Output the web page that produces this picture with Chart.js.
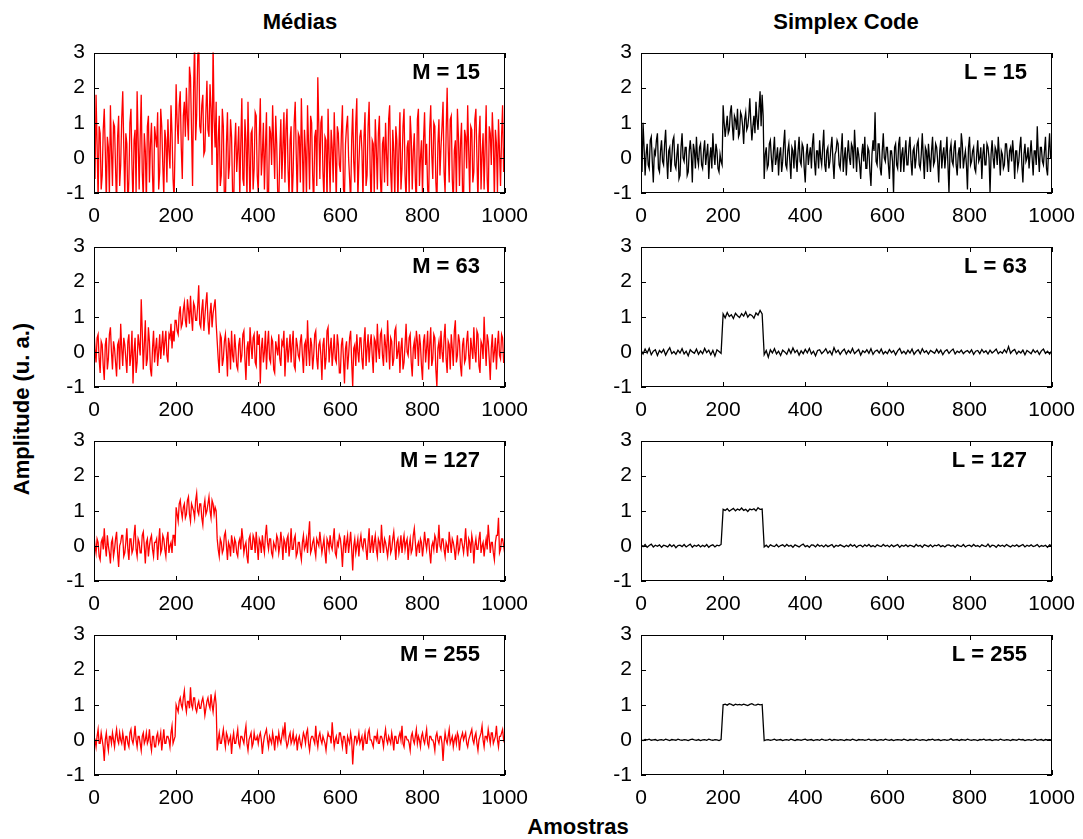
<!DOCTYPE html>
<html>
<head>
<meta charset="utf-8">
<script src="https://cdn.jsdelivr.net/npm/chart.js@4.4.1/dist/chart.umd.min.js"></script>
<style>
  body { margin: 0; background: #fff; }
  #fig { position: relative; width: 1083px; height: 839px; overflow: hidden; font-family: "Liberation Sans", Arial, sans-serif; color: #000; }
  #fig canvas { position: absolute; }
  .lbl { position: absolute; font-weight: bold; font-size: 22px; white-space: nowrap; transform: translate(-50%, -50%); }
</style>
</head>
<body>
<div id="fig">
  <div class="lbl" style="left:300px; top:22px;">Médias</div>
  <div class="lbl" style="left:846px; top:22px;">Simplex Code</div>
  <div class="lbl" style="left:22px; top:409px; transform: translate(-50%, -50%) rotate(-90deg);">Amplitude (u. a.)</div>
  <div class="lbl" style="left:578px; top:827px;">Amostras</div>
</div>
<script>
// sample positions (x axis): fine grid for the noisy traces, coarse grid for the clean ones
var samplesFine = [0,2.5,5,7.5,10,12.5,15,17.5,20,22.5,25,27.5,30,32.5,35,37.5,40,42.5,45,47.5,
  50,52.5,55,57.5,60,62.5,65,67.5,70,72.5,75,77.5,80,82.5,85,87.5,90,92.5,95,97.5,
  100,102.5,105,107.5,110,112.5,115,117.5,120,122.5,125,127.5,130,132.5,135,137.5,140,142.5,145,147.5,
  150,152.5,155,157.5,160,162.5,165,167.5,170,172.5,175,177.5,180,182.5,185,187.5,190,192.5,195,197.5,
  200,202.5,205,207.5,210,212.5,215,217.5,220,222.5,225,227.5,230,232.5,235,237.5,240,242.5,245,247.5,
  250,252.5,255,257.5,260,262.5,265,267.5,270,272.5,275,277.5,280,282.5,285,287.5,290,292.5,295,297.5,
  300,302.5,305,307.5,310,312.5,315,317.5,320,322.5,325,327.5,330,332.5,335,337.5,340,342.5,345,347.5,
  350,352.5,355,357.5,360,362.5,365,367.5,370,372.5,375,377.5,380,382.5,385,387.5,390,392.5,395,397.5,
  400,402.5,405,407.5,410,412.5,415,417.5,420,422.5,425,427.5,430,432.5,435,437.5,440,442.5,445,447.5,
  450,452.5,455,457.5,460,462.5,465,467.5,470,472.5,475,477.5,480,482.5,485,487.5,490,492.5,495,497.5,
  500,502.5,505,507.5,510,512.5,515,517.5,520,522.5,525,527.5,530,532.5,535,537.5,540,542.5,545,547.5,
  550,552.5,555,557.5,560,562.5,565,567.5,570,572.5,575,577.5,580,582.5,585,587.5,590,592.5,595,597.5,
  600,602.5,605,607.5,610,612.5,615,617.5,620,622.5,625,627.5,630,632.5,635,637.5,640,642.5,645,647.5,
  650,652.5,655,657.5,660,662.5,665,667.5,670,672.5,675,677.5,680,682.5,685,687.5,690,692.5,695,697.5,
  700,702.5,705,707.5,710,712.5,715,717.5,720,722.5,725,727.5,730,732.5,735,737.5,740,742.5,745,747.5,
  750,752.5,755,757.5,760,762.5,765,767.5,770,772.5,775,777.5,780,782.5,785,787.5,790,792.5,795,797.5,
  800,802.5,805,807.5,810,812.5,815,817.5,820,822.5,825,827.5,830,832.5,835,837.5,840,842.5,845,847.5,
  850,852.5,855,857.5,860,862.5,865,867.5,870,872.5,875,877.5,880,882.5,885,887.5,890,892.5,895,897.5,
  900,902.5,905,907.5,910,912.5,915,917.5,920,922.5,925,927.5,930,932.5,935,937.5,940,942.5,945,947.5,
  950,952.5,955,957.5,960,962.5,965,967.5,970,972.5,975,977.5,980,982.5,985,987.5,990,992.5,995,997.5,1000];

var samples = [0,5,10,15,20,25,30,35,40,45,50,55,60,65,70,75,80,85,90,95,
  100,105,110,115,120,125,130,135,140,145,150,155,160,165,170,175,180,185,190,195,
  200,205,210,215,220,225,230,235,240,245,250,255,260,265,270,275,280,285,290,295,
  300,305,310,315,320,325,330,335,340,345,350,355,360,365,370,375,380,385,390,395,
  400,405,410,415,420,425,430,435,440,445,450,455,460,465,470,475,480,485,490,495,
  500,505,510,515,520,525,530,535,540,545,550,555,560,565,570,575,580,585,590,595,
  600,605,610,615,620,625,630,635,640,645,650,655,660,665,670,675,680,685,690,695,
  700,705,710,715,720,725,730,735,740,745,750,755,760,765,770,775,780,785,790,795,
  800,805,810,815,820,825,830,835,840,845,850,855,860,865,870,875,880,885,890,895,
  900,905,910,915,920,925,930,935,940,945,950,955,960,965,970,975,980,985,990,995,1000];

var xTicks = [0, 200, 400, 600, 800, 1000];
var yTicks = [-1, 0, 1, 2, 3];

var mediasLabels = ['M = 15', 'M = 63', 'M = 127', 'M = 255'];
var simplexLabels = ['L = 15', 'L = 63', 'L = 127', 'L = 255'];

// Médias (red)
var mediasM15 = [0.1,-0.6,1.8,0.4,-1.2,0.9,0.7,-0.9,-0.5,0.8,1.4,0.2,-1.3,0.6,0.3,-1.1,1.5,0.2,-0.8,1.0,
  0.9,-0.3,-1.4,0.6,1.2,-0.8,-0.2,1.1,1.9,0.3,-1.1,0.7,0.4,-1.5,-0.6,1.0,1.4,-0.2,-1.3,0.5,
  0.8,-1.0,1.9,0.5,-0.9,0.6,1.8,-0.4,-1.2,0.7,0.2,-1.3,0.9,1.2,-0.7,0.4,1.0,-0.5,-1.5,0.9,
  0.6,0.3,1.3,-0.9,-0.4,1.4,0.9,-0.2,-1.1,0.8,0.5,-0.7,1.1,0.2,-0.3,1.5,0.7,-0.6,-1.2,0.4,
  2.1,1.0,0.4,1.5,1.9,0.3,-0.6,1.2,1.6,0.6,2.0,1.1,0.5,2.6,2.3,0.8,-0.8,1.9,3.4,0.5,
  1.2,2.8,3.5,0.9,0.7,1.5,1.8,0.1,0.2,1.3,2.2,0.8,0.6,2.1,1.4,-0.2,3.3,1.1,0.3,1.6,
  -1.4,0.5,1.2,-0.8,-0.5,1.4,0.9,-1.2,-1.3,0.4,1.3,-0.6,-0.2,1.1,0.6,-1.0,-1.5,0.3,1.0,-0.4,
  0.2,0.9,-1.1,0.4,1.7,-0.6,-0.8,1.1,0.5,-1.2,1.6,0.1,-1.4,0.7,0.8,-0.9,-0.3,1.3,1.2,-0.5,
  -1.0,0.6,1.7,-0.5,0.1,1.0,-0.9,0.3,1.3,-1.4,-1.2,0.9,0.7,-0.2,1.5,0.4,-0.6,1.2,0.4,-1.1,
  -1.3,0.2,1.1,-0.6,0.3,1.3,-0.7,0.8,1.4,-0.3,-1.1,0.5,0.9,-1.3,-0.4,1.0,1.6,0.1,-1.2,0.7,
  0.6,-0.7,1.7,0.3,-1.3,0.8,0.2,-1.1,1.5,0.4,-0.9,1.2,1.0,-0.5,-1.4,0.6,0.8,-0.8,2.3,0.9,
  -0.6,1.0,1.2,-0.4,-1.2,0.6,0.5,-1.3,1.4,0.1,-1.0,0.8,0.3,-0.7,1.3,0.2,-1.3,0.9,0.7,-0.2,
  -0.4,0.7,1.5,-0.9,-1.1,0.4,0.9,1.2,0.0,-0.6,-1.3,0.5,1.4,-0.1,-0.7,1.0,1.7,-1.2,-0.2,0.6,
  0.8,0.2,-1.2,0.6,1.3,-0.8,-0.5,0.9,1.6,-0.3,-1.4,0.5,0.4,-1.0,1.1,0.3,-0.9,0.7,1.2,-0.6,
  -1.3,0.4,0.6,-0.7,1.0,0.1,-0.8,1.1,1.5,-0.4,-1.1,0.8,0.2,-1.2,0.9,0.5,-1.3,0.2,1.3,-0.9,
  -0.3,0.9,1.4,-0.5,-1.2,0.3,0.5,-1.0,1.2,0.6,-0.9,0.2,0.7,-0.6,-1.4,1.1,1.4,-0.8,0.0,0.5,
  -1.1,0.5,1.3,-0.2,0.4,-0.9,-1.2,0.8,1.5,0.1,-0.6,1.0,0.9,-0.7,-1.3,0.4,1.1,-0.5,0.3,0.9,
  1.6,-0.4,-1.0,0.7,2.0,0.3,-0.7,1.1,1.2,-0.6,-1.3,0.2,0.5,-1.1,1.4,0.6,-0.8,0.4,1.0,-1.0,
  -1.2,0.8,0.6,-0.3,1.5,0.2,-1.1,0.9,0.8,-0.7,-0.4,1.1,1.4,0.0,-1.3,0.6,1.2,-0.9,0.1,0.7,
  -0.9,0.3,1.5,-0.6,-1.3,0.9,0.7,-0.2,1.3,0.5,-1.2,0.8,0.4,-1.0,1.1,0.2,-0.8,0.6,1.5,-0.4,0.3];

var mediasM63 = [0.6,0.1,-0.3,0.4,0.5,-0.2,-0.6,0.3,0.2,-0.4,-0.8,0.2,0.4,-0.5,-0.2,0.5,0.7,0.0,-0.5,0.3,
  0.1,-0.3,-0.7,0.2,0.3,-0.5,0.8,0.1,-0.4,0.4,0.2,-0.2,-0.6,0.3,0.5,-0.4,-0.1,0.6,-0.9,0.0,
  0.4,-0.6,-0.3,0.5,0.2,-0.1,1.5,0.6,-0.5,0.2,0.9,-0.4,-0.2,0.7,0.3,-0.5,-0.7,0.1,0.6,-0.3,
  0.1,0.4,-0.4,0.0,0.5,-0.2,0.2,0.6,-0.1,0.3,0.6,-0.1,-0.3,0.5,0.4,0.8,0.1,0.6,0.3,0.9,
  0.9,0.6,0.5,1.1,1.3,0.7,0.8,1.2,1.4,0.9,0.7,1.5,1.2,0.8,1.6,1.0,0.6,1.4,1.3,0.9,
  0.9,1.3,1.9,0.8,0.7,1.2,1.5,0.6,1.0,1.4,1.7,0.9,0.5,1.1,1.4,0.7,1.1,1.3,1.5,0.8,
  0.3,-0.2,-0.6,0.5,0.4,-0.4,-0.2,0.3,0.5,0.0,-0.7,0.4,0.2,-0.5,0.6,-0.1,-0.3,0.5,0.1,-0.4,
  -0.5,0.2,0.4,-0.3,-0.1,0.5,0.6,-0.2,-0.8,0.1,0.3,-0.4,0.7,0.2,-0.2,0.4,0.5,-0.3,-0.4,0.6,
  0.2,0.5,-0.9,0.1,0.4,-0.3,0.0,0.6,-0.5,0.2,0.6,-0.2,-0.3,0.4,0.3,-0.5,-0.6,0.3,0.1,-0.1,
  0.5,-0.2,-0.4,0.3,0.2,0.6,-0.7,0.0,0.4,-0.3,0.1,0.5,-0.3,0.2,0.6,-0.4,-0.5,0.4,0.2,-0.1,
  -0.2,0.3,0.5,-0.1,-0.6,0.2,0.3,-0.4,0.9,0.1,-0.4,0.4,0.2,-0.5,-0.1,0.5,0.6,-0.2,-0.5,0.2,
  0.3,-0.1,-0.8,0.2,0.4,-0.5,-0.2,0.6,0.7,-0.3,0.1,0.4,-0.4,0.0,0.5,-0.2,-0.3,0.5,0.2,-0.6,
  -0.6,0.2,0.4,-0.2,-0.9,0.1,0.3,-0.5,-0.1,0.4,0.6,-0.3,-1.0,0.1,0.2,-0.4,0.5,0.0,-0.3,0.4,
  0.4,-0.2,-0.5,0.3,0.7,-0.4,0.1,0.5,-0.3,0.2,0.5,-0.1,-0.6,0.4,0.3,-0.3,0.8,0.1,-0.2,0.5,
  0.6,-0.1,-0.4,0.5,0.2,-0.3,0.9,0.2,-0.5,0.4,0.3,-0.4,-0.2,0.6,0.7,-0.2,0.0,0.3,-0.6,0.1,
  0.4,-0.5,-0.3,0.2,0.8,0.0,-0.1,0.4,0.5,-0.3,-0.7,0.1,0.3,-0.2,0.6,0.3,-0.4,0.5,0.2,-0.4,
  -0.8,0.3,0.5,-0.3,0.1,0.6,-0.5,0.2,0.7,-0.4,-0.2,0.5,0.4,-0.5,-1.0,0.1,0.3,-0.2,0.6,0.0,
  -0.3,0.4,0.8,-0.2,-0.6,0.3,0.2,-0.5,0.5,0.1,-0.4,0.6,0.9,-0.3,-0.1,0.5,0.3,-0.4,-0.7,0.2,
  0.4,-0.3,-0.2,0.3,0.6,-0.1,-0.5,0.4,0.1,-0.2,0.7,0.0,-0.3,0.6,0.5,-0.4,-0.6,0.3,0.2,-0.2,
  1.0,0.2,-0.4,0.5,0.3,-0.2,-0.8,0.1,0.5,-0.3,0.0,0.4,-0.5,0.2,0.6,-0.1,-0.2,0.5,0.4,-0.3,-0.3];

var mediasM127 = [0.3,0.0,-0.2,0.2,0.1,-0.3,-0.4,0.1,0.2,-0.1,0.5,0.0,-0.3,0.3,0.0,-0.2,-0.5,0.1,0.2,-0.3,
  -0.1,0.2,0.4,-0.2,-0.6,0.0,0.1,0.3,0.3,-0.3,-0.2,0.1,0.5,-0.1,-0.4,0.2,0.2,-0.2,-0.1,0.3,
  0.6,-0.1,-0.3,0.2,0.1,-0.2,-0.2,0.3,0.4,0.0,-0.5,0.1,0.2,-0.3,0.0,0.2,0.3,-0.1,-0.3,0.1,
  0.1,0.2,-0.4,0.1,0.5,-0.2,-0.1,0.3,0.2,-0.1,-0.3,0.2,0.4,-0.2,0.0,0.1,-0.2,0.3,0.3,0.0,
  1.1,0.9,0.7,1.2,1.3,1.0,0.8,1.1,1.2,0.8,0.9,1.3,1.4,0.9,0.7,1.2,1.1,1.0,0.8,1.3,
  1.5,1.0,0.9,1.2,1.2,0.8,0.6,1.1,1.3,0.9,1.0,1.2,1.4,1.0,0.8,1.3,1.2,0.9,1.1,1.0,
  0.2,-0.1,-0.3,0.2,0.1,-0.2,-0.1,0.3,0.4,0.0,-0.4,0.1,0.0,-0.3,0.3,0.1,-0.2,0.2,0.1,-0.2,
  -0.3,0.1,0.2,-0.1,0.5,0.2,-0.2,0.0,0.1,-0.3,-0.5,0.2,0.3,-0.1,-0.1,0.3,0.2,-0.2,0.4,0.0,
  -0.4,0.2,0.1,-0.2,0.3,0.0,-0.2,0.3,0.6,0.1,-0.1,0.2,0.2,-0.2,-0.3,0.1,0.0,-0.1,0.3,0.2,
  -0.2,0.0,0.4,0.1,-0.4,0.2,0.1,-0.2,0.2,0.3,-0.3,0.0,0.5,-0.1,-0.1,0.2,0.3,-0.3,-0.2,0.1,
  0.1,-0.2,-0.4,0.1,0.3,-0.1,0.0,0.2,-0.2,0.3,0.7,-0.2,-0.1,0.1,0.2,-0.1,-0.3,0.2,0.1,0.0,
  0.4,0.1,-0.2,0.0,0.2,-0.2,-0.5,0.2,0.1,-0.1,0.3,0.0,-0.1,0.2,0.5,-0.2,-0.3,0.1,0.0,0.3,
  0.2,-0.1,-0.6,0.0,0.3,-0.2,0.1,0.3,-0.2,0.1,0.4,-0.1,-0.7,0.0,0.2,-0.2,0.0,0.2,-0.3,0.1,
  0.3,0.0,-0.1,0.2,0.2,-0.1,-0.4,0.1,0.5,-0.2,0.0,0.3,-0.2,0.1,0.3,-0.1,-0.3,0.2,0.1,-0.2,
  0.6,0.1,-0.2,0.2,0.1,-0.1,-0.3,0.0,0.3,-0.2,-0.1,0.2,0.4,0.0,-0.4,0.1,0.2,-0.2,0.0,0.3,
  -0.2,0.1,0.3,-0.1,0.1,0.2,-0.4,0.0,0.2,-0.2,-0.1,0.3,0.5,0.1,-0.3,0.0,0.1,-0.2,0.2,0.1,
  -0.3,0.0,0.4,0.1,-0.1,0.2,0.2,-0.2,-0.5,0.0,0.1,-0.1,0.3,0.2,-0.2,0.1,0.6,0.0,-0.1,0.2,
  0.2,-0.1,-0.3,0.1,0.0,-0.2,0.4,0.1,-0.2,0.2,0.1,-0.1,-0.4,0.0,0.3,-0.2,-0.1,0.2,0.2,0.0,
  -0.2,0.1,0.5,0.0,-0.3,0.2,0.1,-0.2,0.3,0.1,-0.5,0.0,0.2,-0.1,-0.1,0.2,0.4,-0.2,0.0,0.1,
  -0.3,0.0,0.2,-0.1,0.6,0.2,-0.2,0.1,0.1,-0.2,-0.4,0.1,0.3,0.3,0.8,-0.2,-0.1,0.2,0.2,0.0,-0.2];

var mediasM255 = [0.1,0.0,-0.2,0.1,0.3,-0.1,-0.1,0.2,0.0,-0.2,-0.6,0.0,0.2,-0.1,-0.3,0.1,0.1,-0.1,0.2,0.0,
  -0.2,0.1,0.3,0.0,-0.1,0.2,0.0,-0.1,0.2,0.0,-0.3,0.1,0.1,-0.1,-0.2,0.2,0.3,0.0,-0.1,0.1,
  0.4,0.0,-0.2,0.1,0.1,-0.1,-0.3,0.1,0.2,-0.1,0.0,0.2,-0.1,0.0,0.3,-0.1,-0.3,0.1,0.1,-0.2,
  -0.2,0.1,0.2,-0.1,0.0,0.2,-0.3,0.0,0.3,-0.1,-0.1,0.1,0.1,0.0,-0.2,0.2,0.4,-0.1,0.0,0.1,
  1.0,0.9,0.8,1.1,1.2,1.0,0.9,1.2,1.4,1.0,0.8,1.1,1.1,0.9,1.5,1.0,0.9,1.2,1.2,0.9,
  0.8,1.0,1.1,0.9,0.9,1.1,1.2,1.0,0.7,0.9,1.1,1.2,1.0,0.9,1.3,1.0,0.8,1.1,1.3,1.0,
  -0.3,0.0,0.2,-0.1,-0.1,0.1,0.3,0.0,-0.2,0.2,0.1,-0.1,0.0,0.1,-0.4,0.0,0.2,-0.1,-0.1,0.1,
  0.3,-0.1,-0.2,0.1,0.1,0.0,-0.1,0.2,0.4,-0.1,-0.3,0.0,0.1,0.2,-0.2,-0.1,0.2,0.0,0.0,0.1,
  -0.1,0.1,0.2,0.0,-0.4,-0.1,0.1,0.2,0.3,0.0,-0.2,0.1,0.0,-0.1,0.2,0.0,-0.3,0.1,0.1,-0.1,
  0.2,0.0,-0.1,0.1,0.3,0.1,0.5,0.0,-0.2,-0.1,0.1,0.2,-0.1,0.0,0.2,-0.1,0.0,0.1,-0.3,0.0,
  0.1,-0.1,-0.2,0.0,0.2,0.1,-0.1,0.2,0.3,-0.1,-0.3,0.0,0.1,0.1,0.0,-0.1,0.4,0.0,-0.2,0.1,
  0.2,0.0,-0.1,0.1,0.0,-0.1,-0.3,0.0,0.2,0.1,0.1,-0.1,0.5,0.1,-0.2,0.0,0.1,-0.1,-0.1,0.2,
  0.2,0.0,-0.2,0.1,0.1,-0.1,-0.4,0.1,0.0,-0.1,0.2,0.0,-0.7,-0.2,0.1,0.1,-0.1,0.0,0.2,-0.1,
  0.0,0.1,-0.3,0.0,0.2,-0.1,-0.1,0.2,0.3,0.0,0.0,-0.1,-0.2,0.1,0.1,0.0,0.2,-0.1,-0.1,0.1,
  0.1,0.0,-0.2,0.1,0.3,0.0,-0.1,0.1,0.0,-0.1,0.2,0.0,-0.3,0.1,0.1,-0.1,-0.1,0.1,0.2,0.0,
  0.4,-0.1,-0.2,0.1,0.1,0.0,0.0,-0.1,-0.3,0.1,0.2,0.0,-0.1,0.1,0.3,-0.1,0.1,0.0,-0.2,0.1,
  0.2,0.0,-0.1,0.1,0.3,-0.1,-0.2,0.1,0.1,0.0,0.0,-0.1,-0.3,0.1,0.2,0.0,-0.1,0.1,0.1,-0.1,
  -0.6,-0.1,0.2,0.0,-0.1,0.1,0.3,-0.1,0.0,0.1,-0.2,0.0,0.1,-0.1,0.2,0.1,-0.3,0.0,0.1,0.2,
  0.0,0.1,0.2,-0.1,-0.2,0.0,0.1,0.2,0.3,0.0,-0.1,0.1,0.2,-0.1,-0.3,0.0,0.1,0.2,0.4,0.0,
  -0.2,0.1,0.1,0.0,0.3,0.1,-0.1,0.2,0.2,-0.1,0.0,0.1,0.4,0.0,-0.2,0.1,0.1,0.2,0.3,0.0,0.1];

// Simplex Code (black)
var simplexL15 = [0.2,-0.4,1.0,0.3,-0.5,0.1,0.4,-0.2,-0.3,0.5,0.6,-0.1,-0.7,0.2,0.1,0.5,0.7,-0.3,-0.4,0.2,
  0.5,-0.1,-0.2,0.4,0.8,0.0,-0.6,0.2,0.3,-0.4,0.0,0.5,0.6,-0.2,-0.3,0.1,0.4,-0.6,-0.5,0.3,
  0.7,0.0,-0.1,0.3,0.3,-0.5,-0.4,0.2,0.5,0.1,-0.7,0.4,0.2,-0.3,0.6,0.0,-0.2,0.3,0.4,-0.2,
  -0.3,0.2,0.5,-0.2,0.1,0.4,-0.6,0.0,0.3,-0.3,0.7,0.1,-0.2,0.4,0.2,-0.3,-0.4,0.1,-0.1,-0.2,
  1.5,1.0,0.6,0.9,1.2,0.7,0.8,1.3,1.5,0.9,0.5,1.2,1.1,0.8,1.4,0.6,0.7,1.3,1.2,0.9,
  0.4,1.1,1.3,0.8,0.9,1.2,1.7,1.0,0.5,0.9,1.2,0.7,1.6,1.1,0.8,1.4,1.9,0.9,1.8,1.2,
  -0.6,0.1,0.3,-0.3,-0.2,0.4,0.5,0.0,-0.4,0.2,0.6,-0.2,0.0,0.3,-0.5,0.1,0.3,-0.4,-0.1,0.4,
  0.8,-0.2,-0.3,0.2,0.4,-0.1,-0.6,0.3,0.2,-0.3,0.5,0.0,-0.4,0.2,0.6,-0.1,-0.2,0.4,0.3,-0.3,
  -0.7,0.1,0.4,-0.2,0.1,0.3,-0.3,0.4,0.7,-0.1,-0.5,0.2,0.2,-0.3,0.5,0.0,-0.2,0.3,0.8,-0.2,
  -0.4,0.2,0.3,-0.3,-0.1,0.3,0.6,-0.1,-0.6,0.1,0.2,0.5,0.4,-0.2,-0.3,0.2,0.7,-0.4,0.0,0.3,
  -0.5,0.1,0.5,0.0,-0.2,0.4,0.3,-0.3,0.8,0.2,-0.4,0.3,0.1,-0.2,-0.6,0.1,0.4,-0.1,0.6,-0.3,
  -0.3,0.3,0.2,-0.4,-0.8,0.1,0.5,0.2,1.3,-0.1,-0.2,0.4,0.4,-0.3,-0.5,0.2,0.7,0.0,-0.1,0.3,
  0.3,-0.2,-0.6,0.2,0.2,-0.1,-1.0,0.3,0.4,-0.2,-0.3,0.4,0.6,-0.4,0.1,0.3,-0.4,0.1,0.5,-0.2,
  -0.2,0.3,0.6,-0.1,-0.5,0.2,0.3,-0.3,0.0,0.4,0.5,-0.2,-0.3,0.1,0.7,0.0,-0.6,0.3,0.2,-0.4,
  0.4,0.0,-0.4,0.2,0.6,-0.2,-0.1,0.4,0.3,-0.1,-0.7,0.2,0.5,-0.3,0.1,0.3,-0.3,0.1,0.6,-0.2,
  -1.0,0.2,0.4,-0.1,-0.2,0.3,0.5,-0.2,-0.5,0.1,0.3,-0.3,0.7,0.4,-0.3,0.0,0.2,-0.2,-0.9,0.3,
  0.6,-0.2,-0.1,0.2,0.3,-0.3,-0.4,0.1,0.5,-0.1,0.0,0.3,-0.6,0.1,0.4,-0.2,-0.2,0.4,0.3,0.0,
  -1.0,0.1,0.5,0.0,-0.3,0.3,0.2,-0.2,0.6,0.1,-0.5,0.2,0.1,-0.3,-0.2,0.4,0.4,0.0,-0.4,0.2,
  0.3,-0.1,0.5,0.1,-0.6,0.2,0.2,-0.3,-0.1,0.3,0.6,-0.2,-0.7,0.1,0.4,-0.1,0.0,0.3,-0.3,0.1,
  0.5,0.0,-0.5,0.2,0.2,-0.2,0.9,0.1,-0.4,0.3,0.3,-0.1,-0.2,0.2,0.6,-0.3,-0.5,0.2,0.7,0.0,0.2];

var simplexL63 = [0.05,-0.06,0.08,-0.03,0.10,-0.08,0.02,0.06,-0.10,0.04,
  -0.02,0.07,-0.09,0.03,0.12,-0.05,0.01,-0.07,0.05,-0.03,
  0.09,-0.06,0.02,-0.11,0.06,0.00,-0.04,0.08,-0.07,0.03,
  -0.05,0.10,-0.02,0.05,-0.08,0.04,-0.12,0.06,0.01,-0.04,
  1.08,0.97,1.12,1.01,1.06,0.95,1.10,1.03,0.98,1.09,
  1.02,1.14,0.99,1.07,1.04,0.96,1.11,1.05,1.18,1.08,
  -0.08,0.04,-0.15,0.06,-0.03,0.09,-0.06,0.02,-0.10,0.05,
  0.00,-0.07,0.08,-0.04,0.11,-0.02,0.05,-0.09,0.03,-0.05,
  0.07,-0.03,0.10,-0.06,0.02,-0.11,0.04,0.06,-0.05,0.01,
  0.09,-0.04,0.03,-0.08,0.12,-0.02,0.05,-0.07,0.02,0.08,
  -0.06,0.04,-0.03,0.10,-0.05,0.01,0.07,-0.09,0.03,-0.02,
  0.06,-0.04,0.09,-0.07,0.02,0.05,-0.03,0.08,-0.06,0.01,
  -0.05,0.07,-0.02,0.04,-0.08,0.03,0.10,-0.04,0.02,-0.06,
  0.05,-0.03,0.08,-0.07,0.01,0.06,-0.05,0.09,-0.02,0.03,
  -0.06,0.04,0.00,-0.04,0.07,-0.03,0.05,-0.08,0.02,0.06,
  -0.04,0.03,0.08,-0.06,0.02,-0.02,0.05,-0.05,0.01,0.04,
  -0.03,0.06,-0.07,0.02,0.04,-0.05,0.07,-0.02,0.03,-0.06,
  0.05,-0.03,0.02,0.08,-0.05,0.01,-0.04,0.06,-0.02,0.15,
  -0.04,0.03,0.07,-0.06,0.02,-0.03,0.05,-0.08,0.04,0.00,
  -0.05,0.06,-0.02,0.04,-0.07,0.03,0.08,-0.04,0.02,-0.06,0.03];

var simplexL127 = [0.03,-0.02,0.04,-0.04,0.01,0.05,-0.03,0.02,-0.01,0.03,
  -0.04,0.02,0.00,-0.03,0.04,-0.02,0.03,-0.05,0.01,0.02,
  -0.02,0.04,-0.03,0.01,0.05,-0.04,0.02,-0.01,0.03,-0.03,
  0.02,-0.02,0.04,-0.04,0.01,0.03,-0.03,0.02,0.00,0.04,
  1.04,1.01,1.06,0.99,1.03,1.07,1.00,1.05,1.02,1.08,
  1.01,1.04,0.98,1.05,1.03,1.06,1.00,1.09,1.04,1.05,
  -0.03,0.02,-0.04,0.03,0.00,-0.02,0.04,-0.03,0.01,0.03,
  -0.02,0.04,-0.01,0.02,-0.04,0.03,0.00,-0.03,0.02,0.05,
  -0.02,0.01,-0.04,0.03,0.02,-0.03,0.04,-0.01,0.02,-0.03,
  0.03,-0.02,0.01,0.04,-0.04,0.02,-0.01,0.03,0.00,-0.03,
  0.02,-0.02,0.04,-0.01,0.03,-0.04,0.01,0.02,-0.03,0.03,
  -0.01,0.04,-0.02,0.01,-0.03,0.03,0.00,-0.02,0.04,-0.01,
  0.02,-0.03,0.03,-0.02,0.01,0.04,-0.04,0.02,-0.01,0.03,
  -0.02,0.02,0.00,-0.03,0.04,-0.01,0.02,-0.04,0.03,0.01,
  -0.02,0.03,-0.03,0.02,0.00,0.04,-0.02,0.01,-0.03,0.02,
  0.03,-0.01,0.02,-0.04,0.03,0.00,-0.02,0.04,-0.03,0.01,
  0.02,-0.02,0.04,-0.01,0.01,-0.03,0.03,0.00,-0.02,0.05,
  -0.03,0.02,0.01,-0.04,0.03,-0.01,0.02,-0.02,0.04,0.00,
  -0.03,0.02,-0.01,0.03,-0.02,0.01,0.04,-0.03,0.02,-0.01,
  0.03,-0.02,0.00,0.04,-0.03,0.01,-0.01,0.02,-0.04,0.03,0.00];

var simplexL255 = [0.00,-0.02,0.01,0.00,0.02,-0.01,0.00,0.01,-0.02,0.00,
  0.01,-0.01,0.02,0.00,-0.02,0.01,0.00,-0.01,0.02,0.00,
  -0.01,0.01,0.00,-0.02,0.01,0.02,0.00,-0.01,0.01,-0.02,
  0.00,0.01,-0.01,0.02,0.00,-0.01,0.01,0.00,-0.02,0.01,
  1.00,1.02,0.99,1.03,1.01,0.98,1.02,1.00,1.01,0.99,
  1.02,1.00,0.98,1.01,1.03,1.00,0.99,1.02,1.00,1.01,
  -0.02,0.00,0.01,-0.01,0.00,0.02,-0.01,0.00,0.01,-0.02,
  0.00,0.01,-0.01,0.02,0.00,-0.02,0.01,0.00,-0.01,0.01,
  0.02,-0.01,0.00,0.01,-0.02,0.00,0.01,-0.01,0.02,0.00,
  -0.01,0.00,0.02,-0.02,0.01,0.00,-0.01,0.01,0.00,-0.02,
  0.01,0.00,-0.01,0.02,0.00,-0.02,0.01,0.00,0.01,-0.01,
  0.00,0.02,-0.01,0.00,0.01,-0.02,0.00,0.01,-0.01,0.02,
  0.00,-0.01,0.01,-0.02,0.00,0.01,0.00,-0.01,0.02,0.00,
  -0.02,0.01,0.00,-0.01,0.02,0.00,-0.01,0.01,0.00,-0.02,
  0.01,0.00,0.02,-0.01,0.00,0.01,-0.02,0.00,0.01,-0.01,
  0.00,0.03,-0.01,0.00,0.01,-0.02,0.01,0.00,-0.01,0.02,
  0.00,-0.01,0.01,0.00,-0.02,0.01,0.00,0.02,-0.01,0.00,
  0.01,-0.02,0.00,0.01,-0.01,0.02,0.00,-0.01,0.01,0.00,
  -0.02,0.01,0.00,-0.01,0.02,0.00,0.01,-0.02,0.00,0.01,
  -0.01,0.00,0.02,-0.01,0.00,0.01,-0.02,0.01,0.00,0.01,0.00];

var mediasSeries = [mediasM15, mediasM63, mediasM127, mediasM255];
var simplexSeries = [simplexL15, simplexL63, simplexL127, simplexL255];

// layout of the plot boxes (px)
var colLeft = [94, 641];
var rowTop = [53, 247, 441, 635];
var plotW = 411, plotH = 140;
var padL = 60, padT = 12, padR = 30, padB = 34;

var fontFam = '"Liberation Sans", Arial, sans-serif';

// box + inward ticks on all sides + panel label
var framePlugin = {
    id: 'frame',
    afterDatasetsDraw: function (chart, args, opts) {
        var ctx = chart.ctx, a = chart.chartArea;
        var xs = chart.scales.x, ys = chart.scales.y;
        var L = Math.round(a.left), T = Math.round(a.top), R = Math.round(a.right), B = Math.round(a.bottom);
        ctx.save();
        ctx.strokeStyle = '#000';
        ctx.lineWidth = 1;
        ctx.beginPath();
        xTicks.forEach(function (v) {
            var px = Math.round(xs.getPixelForValue(v)) + 0.5;
            ctx.moveTo(px, B); ctx.lineTo(px, B - 5);
            ctx.moveTo(px, T); ctx.lineTo(px, T + 5);
        });
        yTicks.forEach(function (v) {
            var py = Math.round(ys.getPixelForValue(v)) + 0.5;
            ctx.moveTo(L, py); ctx.lineTo(L + 5, py);
            ctx.moveTo(R, py); ctx.lineTo(R - 5, py);
        });
        ctx.stroke();
        ctx.strokeRect(L + 0.5, T + 0.5, R - L - 1, B - T - 1);
        ctx.fillStyle = '#000';
        ctx.font = 'bold 22px ' + fontFam;
        ctx.textAlign = 'right';
        ctx.textBaseline = 'middle';
        ctx.fillText(opts.label, R - 25, T + 20);
        ctx.restore();
    }
};

function makePanel(col, row, xs, values, color, label) {
    var cv = document.createElement('canvas');
    var w = plotW + padL + padR, h = plotH + padT + padB;
    cv.width = w; cv.height = h;
    cv.style.width = w + 'px'; cv.style.height = h + 'px';
    document.getElementById('fig').appendChild(cv);

    var pts = xs.map(function (s, i) { return { x: s, y: values[i] }; });

    var chart = new Chart(cv.getContext('2d'), {
        type: 'line',
        data: {
            datasets: [{
                data: pts,
                borderColor: color,
                borderWidth: 1.3,
                pointRadius: 0,
                tension: 0,
                fill: false,
                clip: 0
            }]
        },
        options: {
            responsive: false,
            maintainAspectRatio: false,
            animation: false,
            devicePixelRatio: 1,
            layout: { padding: { left: 0, top: padT, right: padR, bottom: 0 } },
            plugins: {
                legend: { display: false },
                tooltip: { enabled: false },
                frame: { label: label }
            },
            scales: {
                x: {
                    type: 'linear',
                    min: xTicks[0], max: xTicks[xTicks.length - 1],
                    afterBuildTicks: function (s) { s.ticks = xTicks.map(function (v) { return { value: v }; }); },
                    afterFit: function (s) { s.height = padB; },
                    grid: { display: false, drawTicks: false },
                    border: { display: false },
                    ticks: {
                        color: '#000', padding: 11, maxRotation: 0, autoSkip: false,
                        font: { family: fontFam, size: 21 },
                        callback: function (v) { return String(v); }
                    }
                },
                y: {
                    min: yTicks[0], max: yTicks[yTicks.length - 1],
                    afterBuildTicks: function (s) { s.ticks = yTicks.map(function (v) { return { value: v }; }); },
                    afterFit: function (s) { s.width = padL; },
                    grid: { display: false, drawTicks: false },
                    border: { display: false },
                    ticks: {
                        color: '#000', padding: 9,
                        font: { family: fontFam, size: 21 },
                        callback: function (v) { return String(v); }
                    }
                }
            }
        },
        plugins: [framePlugin]
    });

    // make the plot box exactly plotW x plotH, then put it where the reference has it
    var a = chart.chartArea;
    var dw = Math.round(plotW - (a.right - a.left)), dh = Math.round(plotH - (a.bottom - a.top));
    if (dw !== 0 || dh !== 0) {
        chart.resize(w + dw, h + dh);
        a = chart.chartArea;
    }
    cv.style.left = (colLeft[col] - Math.round(a.left)) + 'px';
    cv.style.top = (rowTop[row] - Math.round(a.top)) + 'px';
}

for (var r = 0; r < 4; r++) {
    makePanel(0, r, samplesFine, mediasSeries[r], '#ff0000', mediasLabels[r]);
    makePanel(1, r, r === 0 ? samplesFine : samples, simplexSeries[r], '#000000', simplexLabels[r]);
}
</script>
</body>
</html>
